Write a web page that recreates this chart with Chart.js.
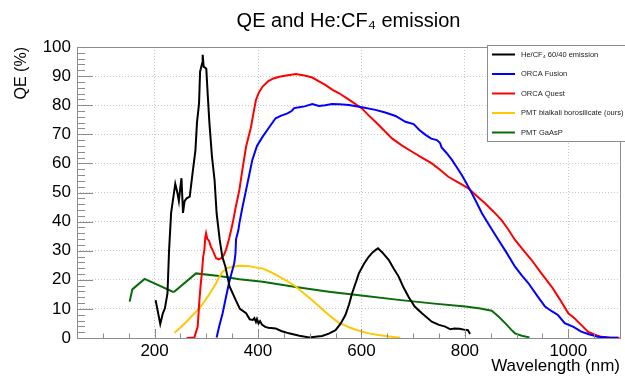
<!DOCTYPE html>
<html>
<head>
<meta charset="utf-8">
<script src="https://cdn.jsdelivr.net/npm/chart.js@4.4.1/dist/chart.umd.min.js"></script>
<style>
  html, body { margin: 0; padding: 0; background: #fff; }
  #chart { display: block; }
</style>
</head>
<body>
<canvas id="chart" width="625" height="377"></canvas>
<script>
// Values (wavelength in nm, QE in %).
const emissionNm = [202, 211, 216, 220, 225, 228, 232, 236, 240, 244, 247, 250, 252, 255, 258, 262, 268, 273, 279, 282, 286, 288, 292, 293, 295, 297, 300, 303, 306, 311, 316, 320, 326, 331, 337, 345, 357, 365, 377, 384, 390, 393, 396, 398, 401, 404, 408, 414, 420, 434, 445, 460, 480, 499, 515, 524, 537, 550, 560, 569, 576, 582, 589, 595, 605, 614, 622, 627, 632, 640, 653, 662, 672, 681, 691, 703, 717, 736, 750, 762, 772, 780, 790, 800, 806, 810];
const emissionQE = [13, 4.8, 8.5, 10.2, 15.4, 30, 43, 48, 53, 50, 47, 52, 54.9, 43, 47, 48, 48.6, 56, 64.5, 74, 80.6, 91.5, 94.4, 97.3, 93.2, 93, 92.5, 83, 74, 62.3, 54.3, 42.8, 33.7, 27.9, 24.5, 17.7, 13, 10, 8.5, 6.4, 6.2, 6.8, 5.5, 6.5, 5, 5.8, 4.5, 3.8, 3.5, 3.3, 2.4, 1.6, 0.8, 0.2, 0.5, 0.7, 1.5, 2.7, 5, 7.9, 11.5, 15.4, 19, 22.2, 25.5, 27.9, 29.5, 30.2, 30.8, 29.5, 26.8, 24, 21.1, 17.5, 14.2, 10.8, 8.5, 5.6, 4.5, 3.9, 3.0, 3.3, 3.2, 2.8, 2.7, 1.4];

const fusionNm = [320, 325, 331.6, 338, 344.5, 350, 354, 356.4, 357.6, 362, 364, 370, 377, 383, 389, 398, 409, 420, 434, 445, 457, 465, 470, 480, 490, 505, 518, 530, 543, 557, 576, 601, 627, 646, 666, 685, 701, 712, 724, 735, 746, 752, 755, 765, 775, 785, 794, 802, 810, 820, 833, 848, 865, 880, 897, 910, 923, 940, 955, 968, 980, 993, 1010, 1025, 1040, 1057, 1075, 1096];
const fusionQE = [0.2, 4, 8.5, 14, 19.3, 23, 25.6, 29, 34, 37, 39.4, 45, 50.9, 56, 61.2, 66, 69.2, 72, 75.5, 76.4, 77.2, 78, 79, 79.3, 79.6, 80.4, 79.7, 80, 80.4, 80.3, 80.1, 79.3, 78.4, 77.5, 76.3, 74.3, 73.5, 71.5, 69.8, 68.5, 68, 67, 65.5, 63.5, 61.2, 58.5, 56, 53.5, 50.9, 47.5, 42.9, 38.5, 33.7, 29.5, 24.5, 21.5, 18.8, 14.5, 10.8, 9.2, 7.9, 5.1, 3.8, 2.2, 1.3, 0.4, 0.2, 0.1];

const questNm = [262, 277, 283.4, 286.7, 289, 292, 294, 296.3, 298, 299.6, 302, 305, 309, 314, 319, 324, 329, 334, 338, 344, 351, 357, 364, 370, 377, 383, 386, 391, 396, 402, 409, 420, 430, 441, 455, 473, 490, 505, 518, 530, 545, 557, 575, 590, 601, 614, 627, 643, 659, 678, 698, 717, 736, 752, 768, 787, 807, 823, 839, 855, 871, 884, 897, 913, 929, 948, 968, 984, 1000, 1012, 1025, 1038, 1050, 1064, 1080, 1099];
const questQE = [0, 0.2, 3.9, 13, 18, 23.4, 28, 30.2, 34.5, 36, 34, 33.5, 31.4, 29.5, 27.4, 27, 27.4, 28.5, 30.2, 34, 39.4, 45, 50.9, 58, 65.8, 70, 72.1, 77, 81.8, 84.5, 86.4, 88.3, 89.2, 89.8, 90.2, 90.7, 90.2, 89.5, 88.2, 87, 85.2, 84.1, 82, 80.2, 78.9, 76.5, 74.3, 71.5, 68.6, 66.2, 64, 62, 60, 57.8, 55.4, 53.5, 51.4, 48.8, 46.3, 43.5, 40.5, 37.3, 33.7, 30.2, 26.8, 22.2, 17.6, 13.2, 8.5, 6.8, 4.5, 2.2, 1.2, 0.4, 0.2, 0.1];

const bialkaliNm = [238.5, 245, 251, 261, 270.7, 279, 286.7, 295, 302.7, 311, 318.9, 325, 331.6, 340, 351, 365, 383, 399, 409, 425, 441, 457, 473, 489, 505, 521, 537, 547, 556, 566, 576, 588, 601, 617, 633, 650, 665, 675];
const bialkaliQE = [1.8, 2.8, 3.7, 5.5, 7.3, 8.8, 10.2, 12.2, 14.2, 16.5, 18.8, 21, 22.8, 24, 24.5, 24.8, 24.7, 24.1, 23.9, 22.6, 21.1, 19.5, 17.7, 15.3, 13, 10.4, 7.9, 6.5, 5.3, 4.5, 3.7, 2.9, 2.2, 1.5, 1.0, 0.6, 0.3, 0.1];

const gaasNm = [151.8, 157, 180.7, 235, 238.5, 280, 325, 364, 409, 473, 537, 608, 672, 736, 801, 830, 852, 865, 878, 890, 897, 910, 925];
const gaasQE = [12.5, 16.7, 20.3, 15.9, 16, 22.2, 21.3, 20.2, 19.3, 17.5, 15.9, 14.4, 13.1, 11.9, 10.8, 10.1, 9.4, 7.4, 5.1, 2.8, 1.6, 0.8, 0.2];

const seriesLabels = ["He/CF\u2084 60/40 emission", "ORCA Fusion", "ORCA Quest", "PMT bialkali borosilicate (ours)", "PMT GaAsP"];
const seriesColors = ["#000000", "#0000ff", "#ff0000", "#ffc800", "#0a6b0a"];
const xTickValues = [200, 400, 600, 800, 1000];
const chartTitle = "QE and He:CF\u2084 emission";

const FONT = "'Liberation Sans', Arial, Helvetica, sans-serif";

function points(xs, ys) {
  return xs.map((x, i) => ({ x, y: ys[i] }));
}

const seriesData = [
  points(emissionNm, emissionQE),
  points(fusionNm, fusionQE),
  points(questNm, questQE),
  points(bialkaliNm, bialkaliQE),
  points(gaasNm, gaasQE),
];

// ROOT centres the title over the frame, not over the whole canvas
const frameTitle = {
  id: "frameTitle",
  afterDraw(chart) {
    const { ctx, chartArea: a } = chart;
    ctx.save();
    ctx.fillStyle = "#000";
    ctx.font = `20px ${FONT}`;
    ctx.textAlign = "center";
    ctx.textBaseline = "middle";
    ctx.fillText(chartTitle, (a.left + a.right) / 2, 21);
    ctx.restore();
  },
};

// ROOT-style frame with inward ticks (major + minor)
const frameTicks = {
  id: "frameTicks",
  afterDatasetsDraw(chart) {
    const { ctx, chartArea: a, scales } = chart;
    ctx.save();
    ctx.strokeStyle = "#8c8c8c";
    ctx.lineWidth = 1;
    ctx.beginPath();
    for (let v = 50; v <= 1100; v += 50) {
      const px = Math.round(scales.x.getPixelForValue(v)) + 0.5;
      const len = v % 200 === 0 ? 9 : 4.5;
      ctx.moveTo(px, a.bottom);
      ctx.lineTo(px, a.bottom - len);
    }
    for (let v = 0; v <= 100; v += 2) {
      const py = Math.round(scales.y.getPixelForValue(v)) + 0.5;
      const len = v % 10 === 0 ? 16 : 8;
      ctx.moveTo(a.left, py);
      ctx.lineTo(a.left + len, py);
    }
    ctx.stroke();
    ctx.strokeRect(Math.round(a.left) + 0.5, Math.round(a.top) + 0.5, Math.round(a.right - a.left), Math.round(a.bottom - a.top));
    ctx.restore();
  },
};

// legend box in the top right corner, like the ROOT TLegend
const legendBox = {
  id: "legendBox",
  afterDraw(chart) {
    const { ctx } = chart;
    const left = 487.5, top = 45.5, rowH = 19.5;
    ctx.save();
    ctx.fillStyle = "#fff";
    ctx.fillRect(left, top, 140, 96);
    ctx.strokeStyle = "#8c8c8c";
    ctx.lineWidth = 1;
    ctx.strokeRect(left, top, 140, 96);
    ctx.font = `7.5px ${FONT}`;
    ctx.textBaseline = "middle";
    chart.data.datasets.forEach((ds, i) => {
      const y = top + 9 + i * rowH;
      ctx.strokeStyle = ds.borderColor;
      ctx.lineWidth = 2;
      ctx.beginPath();
      ctx.moveTo(492, y);
      ctx.lineTo(515, y);
      ctx.stroke();
      ctx.fillStyle = "#222";
      ctx.fillText(ds.label, 521, y);
    });
    ctx.restore();
  },
};

new Chart(document.getElementById("chart"), {
  type: "scatter",
  data: {
    datasets: seriesData.map((data, i) => ({
      label: seriesLabels[i],
      data,
      showLine: true,
      borderColor: seriesColors[i],
      backgroundColor: seriesColors[i],
      borderWidth: 2,
      pointRadius: 0,
      tension: 0,
    })),
  },
  options: {
    responsive: false,
    animation: false,
    devicePixelRatio: 1,
    layout: { padding: { left: 0, right: 5, top: 47, bottom: 0 } },
    plugins: {
      legend: { display: false },
      tooltip: { enabled: false },
      title: { display: false },
    },
    scales: {
      x: {
        type: "linear",
        min: 50,
        max: 1100,
        afterBuildTicks: (s) => {
          s.ticks = xTickValues.map((v) => ({ value: v }));
        },
        afterFit: (s) => {
          s.height = 39;
        },
        ticks: {
          color: "#000",
          font: { family: FONT, size: 17 },
          padding: 3,
          maxRotation: 0,
          autoSkip: false,
          callback: (v) => String(v),
        },
        grid: { color: "#c8c8c8", drawTicks: false },
        border: { display: false, dash: [1, 2] },
        title: {
          display: true,
          text: "Wavelength (nm)",
          align: "end",
          color: "#000",
          font: { family: FONT, size: 17 },
          padding: 0,
        },
      },
      y: {
        min: 0,
        max: 100,
        afterFit: (s) => {
          s.width = 77;
        },
        ticks: { stepSize: 10, color: "#000", font: { family: FONT, size: 17 }, padding: 6 },
        grid: { color: "#c8c8c8", drawTicks: false },
        border: { display: false, dash: [1, 2] },
        title: {
          display: true,
          text: "QE (%)",
          align: "end",
          color: "#000",
          font: { family: FONT, size: 16 },
          padding: { top: 12, bottom: 0 },
        },
      },
    },
  },
  plugins: [frameTicks, legendBox, frameTitle],
});
</script>
</body>
</html>
